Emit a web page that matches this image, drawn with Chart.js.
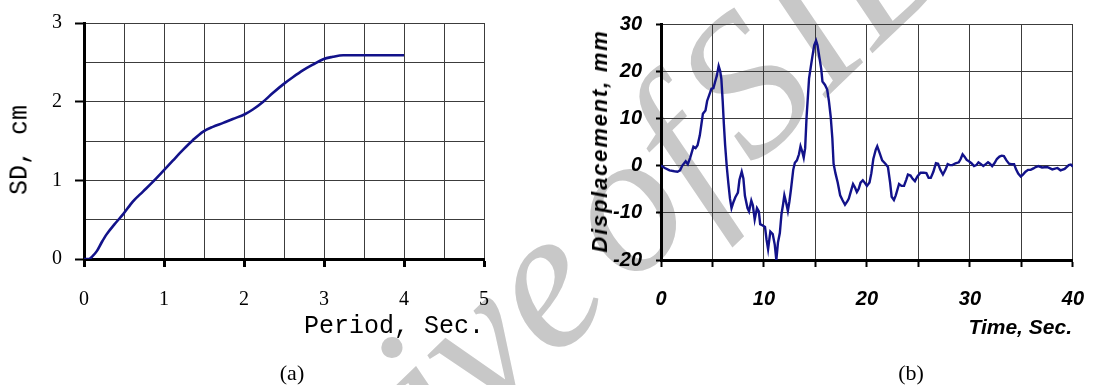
<!DOCTYPE html>
<html>
<head>
<meta charset="utf-8">
<title>SD spectrum and displacement history</title>
<script src="https://cdn.jsdelivr.net/npm/chart.js@4.4.1/dist/chart.umd.min.js"></script>
<style>
  body { margin: 0; background: #fff; }
  #page { position: relative; width: 1106px; height: 385px; overflow: hidden; background: #fff; }
  canvas { position: absolute; top: 0; }
  #sdChart { left: 0; }
  #dispChart { left: 540px; }
  .lbl { position: absolute; white-space: nowrap; color: #000; line-height: 1; }
  .mono { font-family: 'Liberation Mono', 'Courier New', monospace; font-size: 25px; }
  .arial { font-family: 'Liberation Sans', Arial, sans-serif; font-weight: bold; font-style: italic; }
  .times { font-family: 'Liberation Serif', 'Times New Roman', serif; font-size: 22px; }
  .rot { transform: translate(-50%, -50%) rotate(-90deg); }
  .mid { transform: translate(-50%, -50%); }
  .endx { transform: translate(-100%, -50%); }
  #mark {
    position: absolute; left: 175px; top: 560px;
    font: italic 200px 'Liberation Serif', serif; line-height: 1; word-spacing: -32px;
    color: #c8c8c8; white-space: nowrap;
    transform-origin: 0 168px; transform: rotate(-44deg);
  }
</style>
</head>
<body>
<div id="page">
  <div id="mark">Archive of SID</div>
  <canvas id="sdChart" width="540" height="385"></canvas>
  <canvas id="dispChart" width="566" height="385"></canvas>

  <div class="lbl mono rot" style="left:20px; top:150px;">SD, cm</div>
  <div class="lbl mono endx" style="left:484px; top:326px;">Period, Sec.</div>
  <div class="lbl times mid" style="left:292px; top:373px;">(a)</div>

  <div class="lbl arial rot" style="left:600px; top:141px; font-size:22px; letter-spacing:1.8px;">Displacement, mm</div>
  <div class="lbl arial endx" style="left:1072px; top:326px; font-size:21px;">Time, Sec.</div>
  <div class="lbl times mid" style="left:911px; top:373px;">(b)</div>
</div>

<script>
// (a) spectral displacement vs period
const periodSec = [0, 0.06, 0.11, 0.16, 0.22, 0.28, 0.38, 0.49, 0.61, 0.74, 0.86, 1.0, 1.11, 1.24, 1.36, 1.49,
  1.61, 1.74, 1.86, 2.01, 2.11, 2.24, 2.36, 2.49, 2.61, 2.74, 2.86, 2.99, 3.11, 3.24, 3.5, 4.0];
const sdCm = [0, 0, 0.04, 0.10, 0.21, 0.31, 0.44, 0.57, 0.73, 0.86, 0.98, 1.13, 1.25, 1.39, 1.51, 1.62,
  1.68, 1.73, 1.78, 1.84, 1.90, 2.00, 2.11, 2.22, 2.31, 2.40, 2.47, 2.54, 2.57, 2.59, 2.59, 2.59];
const periodLabels = [0, 1, 2, 3, 4, 5];
const sdLabels = [0, 1, 2, 3];

// (b) displacement time history
const timeSec = [0, 0.37, 0.83, 1.3, 1.6, 1.85, 2.07, 2.4, 2.6, 2.84, 3.15, 3.36, 3.55, 3.77, 3.92, 4.07,
  4.32, 4.48, 4.69, 4.9, 5.09, 5.25, 5.43, 5.6, 5.74, 5.86, 5.99, 6.1, 6.23, 6.39, 6.54, 6.7,
  6.85, 7.04, 7.22, 7.47, 7.62, 7.84, 8.0, 8.15, 8.4, 8.55, 8.77, 8.92, 9.1, 9.32, 9.5, 9.63,
  9.88, 10.1, 10.25, 10.4, 10.62, 10.85, 11.05, 11.2, 11.36, 11.54, 11.7, 11.85, 11.98, 12.13,
  12.32, 12.47, 12.63, 12.84, 13.0, 13.2, 13.4, 13.55, 13.7, 13.86, 14.0, 14.14, 14.26, 14.38,
  14.54, 14.7, 14.88, 15.06, 15.2, 15.37, 15.56, 15.68, 15.93, 16.14, 16.3, 16.48, 16.64, 16.76,
  16.94, 17.16, 17.4, 17.62, 17.87, 18.09, 18.24, 18.46, 18.65, 18.83, 19.02, 19.2, 19.38, 19.6,
  19.78, 20.0, 20.25, 20.43, 20.62, 20.86, 21.0, 21.23, 21.48, 21.79, 22.04, 22.25, 22.4, 22.62,
  22.8, 23.12, 23.36, 23.6, 23.83, 23.98, 24.23, 24.44, 24.66, 24.9, 25.2, 25.52, 25.77, 25.99,
  26.2, 26.45, 26.7, 26.91, 27.13, 27.38, 27.62, 27.84, 28.06, 28.3, 28.6, 28.92, 29.1, 29.29,
  29.48, 29.69, 29.9, 30.15, 30.4, 30.62, 30.83, 31.08, 31.3, 31.54, 31.76, 31.94, 32.16, 32.38,
  32.62, 32.87, 33.09, 33.3, 33.55, 33.8, 34.04, 34.29, 34.48, 34.69, 34.94, 35.15, 35.4, 35.65,
  35.9, 36.17, 36.39, 36.64, 37.0, 37.5, 38.0, 38.5, 38.8, 39.2, 39.6, 39.8, 40.0];
const dispMm = [0, -0.5, -1.0, -1.2, -1.3, -1.0, 0, 0.9, 0.3, 1.7, 4.0, 3.7, 4.3, 6.4, 8.7, 11.0,
  11.7, 13.7, 15.0, 16.3, 16.4, 17.7, 19.1, 21.1, 20.1, 18.4, 13.7, 9.0, 4.3, -0.3, -3.7, -7.0,
  -9.0, -7.7, -6.7, -5.7, -3.0, -1.3, -2.7, -6.4, -9.0, -9.7, -7.4, -8.4, -11.4, -9.0, -9.7, -12.4,
  -12.7, -13.0, -15.7, -17.7, -14.0, -14.5, -16.8, -20.0, -16.3, -14.3, -10.3, -8.3, -6.3, -7.6,
  -9.6, -7.6, -4.9, -0.9, 0.6, 1.1, 2.4, 4.1, 3.1, 1.7, 3.7, 10.4, 14.4, 18.5,
  20.8, 23.1, 25.5, 26.5, 25.5, 23.1, 20.5, 17.8, 17.1, 16.1, 13.8, 10.4, 5.8, 0.4,
  -1.6, -3.6, -6.3, -7.3, -8.3, -7.6, -7.0, -5.3, -3.9, -4.6, -5.6, -4.9, -3.6, -3.1,
  -3.6, -4.3, -3.6, -1.6, 1.4, 3.4, 4.1, 2.7, 1.1, 0.4, -0.3, -3.6, -6.6, -7.3,
  -6.3, -3.9, -4.3, -4.3, -2.9, -1.9, -2.1, -2.8, -3.3, -2.3, -1.5, -1.5, -1.6, -2.6,
  -2.6, -1.3, 0.5, 0.4, -0.9, -1.9, -0.9, 0.3, 0.1, 0.1, 0.5, 0.7, 1.4, 2.4,
  1.9, 1.2, 0.9, 0.5, -0.1, 0.1, 0.7, 0.3, -0.1, 0.3, 0.7, 0.4, -0.1, 0.5,
  1.4, 1.9, 2.1, 2.0, 1.1, 0.4, 0.3, 0.3, -0.8, -1.7, -2.3, -1.9, -1.3, -0.9,
  -0.9, -0.6, -0.3, -0.1, -0.4, -0.3, -0.8, -0.5, -1.0, -0.7, 0.1, 0.2, -0.2];
const timeLabels = [0, 10, 20, 30, 40];
const dispLabels = [-20, -10, 0, 10, 20, 30];

const lineColor = '#12128a';
const gridColor = '#3c3c3c';

const serifTick = { family: "'Liberation Serif', 'Times New Roman', serif", size: 20, lineHeight: 1 };
const arialTick = { family: "'Liberation Sans', Arial, sans-serif", size: 20, weight: 'bold', style: 'italic', lineHeight: 1 };

function hasLabel(list, v) {
  return list.some(l => Math.abs(l - v) < 1e-6);
}

// shared options, no legend, no tooltips, no animation
const baseOptions = {
  responsive: false,
  animation: false,
  events: [],
  plugins: { legend: { display: false }, tooltip: { enabled: false } }
};

new Chart(document.getElementById('sdChart'), {
  type: 'line',
  data: {
    datasets: [{
      data: periodSec.map((x, i) => ({ x: x, y: sdCm[i] })),
      borderColor: lineColor,
      borderWidth: 2.6,
      pointRadius: 0,
      cubicInterpolationMode: 'monotone',
      fill: false
    }]
  },
  options: {
    ...baseOptions,
    layout: { padding: { left: 0, right: 56, top: 19, bottom: 0 } },
    scales: {
      x: {
        type: 'linear', min: 0, max: 5,
        afterFit: scale => { scale.height = 126; },
        ticks: {
          stepSize: 0.5, autoSkip: false, maxRotation: 0, padding: 23, color: '#000', font: serifTick,
          callback: v => hasLabel(periodLabels, v) ? v : ''
        },
        grid: {
          color: gridColor, lineWidth: 1, tickLength: 8, tickWidth: 3,
          tickColor: c => hasLabel(periodLabels, c.tick.value) ? '#000' : 'rgba(0,0,0,0)'
        },
        border: { color: '#000', width: 3 }
      },
      y: {
        type: 'linear', min: 0, max: 3,
        afterFit: scale => { scale.width = 84; },
        ticks: {
          stepSize: 0.5, autoSkip: false, padding: 13, color: '#000', font: serifTick,
          callback: v => hasLabel(sdLabels, v) ? v : ''
        },
        grid: {
          color: gridColor, lineWidth: 1, tickLength: 9, tickWidth: 2,
          tickColor: c => hasLabel(sdLabels, c.tick.value) ? '#000' : 'rgba(0,0,0,0)'
        },
        border: { color: '#000', width: 3 }
      }
    }
  }
});

new Chart(document.getElementById('dispChart'), {
  type: 'line',
  data: {
    datasets: [{
      data: timeSec.map((x, i) => ({ x: x, y: dispMm[i] })),
      borderColor: lineColor,
      borderWidth: 2.4,
      pointRadius: 0,
      tension: 0,
      fill: false
    }]
  },
  options: {
    ...baseOptions,
    layout: { padding: { left: 0, right: 17, top: 11, bottom: 0 } },
    scales: {
      x: {
        type: 'linear', min: 0, max: 40,
        afterFit: scale => { scale.height = 125; },
        ticks: {
          stepSize: 5, autoSkip: false, maxRotation: 0, padding: 22, color: '#000', font: arialTick,
          callback: v => hasLabel(timeLabels, v) ? v : ''
        },
        grid: { color: gridColor, lineWidth: 1, tickLength: 7, tickWidth: 2, tickColor: '#000' },
        border: { color: '#000', width: 3 }
      },
      y: {
        type: 'linear', min: -20, max: 30,
        afterFit: scale => { scale.width = 121; },
        ticks: {
          stepSize: 10, autoSkip: false, padding: 14, color: '#000', font: arialTick,
          callback: v => hasLabel(dispLabels, v) ? String(v) : ''
        },
        grid: { color: gridColor, lineWidth: 1, tickLength: 5, tickWidth: 2, tickColor: '#000' },
        border: { color: '#000', width: 3 }
      }
    }
  }
});
</script>
</body>
</html>
